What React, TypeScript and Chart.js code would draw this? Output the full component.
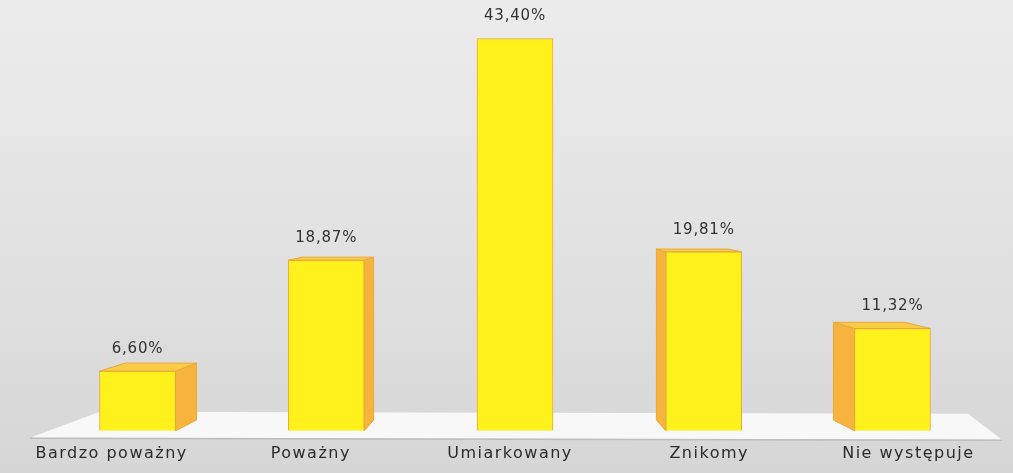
import React, { useEffect, useRef } from "react";
import { Chart, registerables } from "chart.js";

Chart.register(...registerables);

const categories = ["Bardzo poważny", "Poważny", "Umiarkowany", "Znikomy", "Nie występuje"];
const percentages = [6.6, 18.87, 43.4, 19.81, 11.32];
const yMax = 46;

const FRONT = "#FFF21C";
const SIDE = "#F6B43E";
const TOP = "#F9CC45";
const EDGE = "#E9A93A";

const bgPlugin = {
  id: "bg3d",
  beforeDraw(chart: any) {
    const { ctx, width, height } = chart;
    ctx.save();
    const g = ctx.createLinearGradient(0, 0, 0, height);
    g.addColorStop(0, "#ececec");
    g.addColorStop(0.5, "#e2e2e2");
    g.addColorStop(1, "#d6d6d6");
    ctx.fillStyle = g;
    ctx.fillRect(0, 0, width, height);
    ctx.restore();
    ctx.letterSpacing = "1.5px";
  },
  beforeDatasetsDraw(chart: any) {
    const { ctx, chartArea } = chart;
    const y0 = chart.scales.y.getPixelForValue(0);
    ctx.save();
    ctx.beginPath();
    ctx.moveTo(chartArea.left + 18, y0 + 7);
    ctx.lineTo(chartArea.left + 88, y0 - 19);
    ctx.lineTo(chartArea.right - 40, y0 - 17);
    ctx.lineTo(chartArea.right - 6, y0 + 9);
    ctx.closePath();
    ctx.fillStyle = "#f8f8f8";
    ctx.fill();
    ctx.beginPath();
    ctx.moveTo(chartArea.left + 18, y0 + 7.5);
    ctx.lineTo(chartArea.right - 6, y0 + 9.5);
    ctx.strokeStyle = "#bdbdbd";
    ctx.lineWidth = 1.5;
    ctx.stroke();
    ctx.restore();
  },
  afterDatasetsDraw(chart: any) {
    const { ctx } = chart;
    const meta = chart.getDatasetMeta(0);
    const vx = (chart.chartArea.left + chart.chartArea.right) / 2 + 5;
    const vy = 192;
    const kx = 0.062;
    const ky = 0.045;
    ctx.save();
    meta.data.forEach((bar: any, i: number) => {
      const { x, y, base, width } = bar.getProps(["x", "y", "base", "width"], true);
      const L = x - width / 2;
      const R = x + width / 2;
      const off = (px: number, py: number) => [px + (vx - px) * kx, py + (vy - py) * ky];
      const sx = vx > R ? R : L;
      if (Math.abs(vx - x) > width / 2 - 4) {
        const [tx, ty] = off(sx, y);
        const [bx, by] = off(sx, base);
        ctx.beginPath();
        ctx.moveTo(sx, y);
        ctx.lineTo(tx, ty);
        ctx.lineTo(bx, by);
        ctx.lineTo(sx, base);
        ctx.closePath();
        ctx.fillStyle = SIDE;
        ctx.fill();
        ctx.strokeStyle = EDGE;
        ctx.lineWidth = 1;
        ctx.stroke();
      }
      if (vy < y) {
        const [a, b] = off(L, y);
        const [c, d] = off(R, y);
        ctx.beginPath();
        ctx.moveTo(L, y);
        ctx.lineTo(a, b);
        ctx.lineTo(c, d);
        ctx.lineTo(R, y);
        ctx.closePath();
        ctx.fillStyle = TOP;
        ctx.fill();
        ctx.strokeStyle = EDGE;
        ctx.lineWidth = 1;
        ctx.stroke();
      }
      const txt = percentages[i].toFixed(2).replace(".", ",") + "%";
      ctx.letterSpacing = "0.8px";
      ctx.font = "15px 'DejaVu Sans'";
      ctx.fillStyle = "#333333";
      ctx.textAlign = "center";
      ctx.textBaseline = "middle";
      ctx.fillText(txt, x, y - 22);
    });
    ctx.restore();
  },
};

export default function App() {
  const ref = useRef<HTMLCanvasElement | null>(null);
  useEffect(() => {
    document.body.style.margin = "0";
    const chart = new Chart(ref.current as HTMLCanvasElement, {
      type: "bar",
      data: {
        labels: categories,
        datasets: [
          {
            data: percentages.map((v, i) => ({ x: i, y: v })) as any,
            xAxisID: "xb",
            yAxisID: "y",
            backgroundColor: FRONT,
            borderColor: EDGE,
            borderWidth: 1,
            barThickness: 76,
          },
        ],
      },
      options: {
        animation: false,
        responsive: false,
        layout: { padding: { left: 12, right: 5, top: 15, bottom: -3 } },
        plugins: { legend: { display: false }, tooltip: { enabled: false } },
        scales: {
          x: {
            type: "category",
            offset: true,
            grid: { display: false, drawTicks: false },
            border: { display: false },
            ticks: {
              color: "#2b2b2b",
              font: { family: "'DejaVu Sans'", size: 16 },
              padding: 13,
              maxRotation: 0,
            },
          },
          xb: {
            type: "linear",
            display: false,
            offset: false,
            min: -0.665,
            max: 4.612,
          },
          y: {
            type: "linear",
            display: false,
            min: 0,
            max: yMax,
          },
        },
      },
      plugins: [bgPlugin],
    });
    return () => chart.destroy();
  }, []);
  return (
    <div style={{ width: 1013, height: 473 }}>
      <canvas ref={ref} width={1013} height={473} />
    </div>
  );
}
